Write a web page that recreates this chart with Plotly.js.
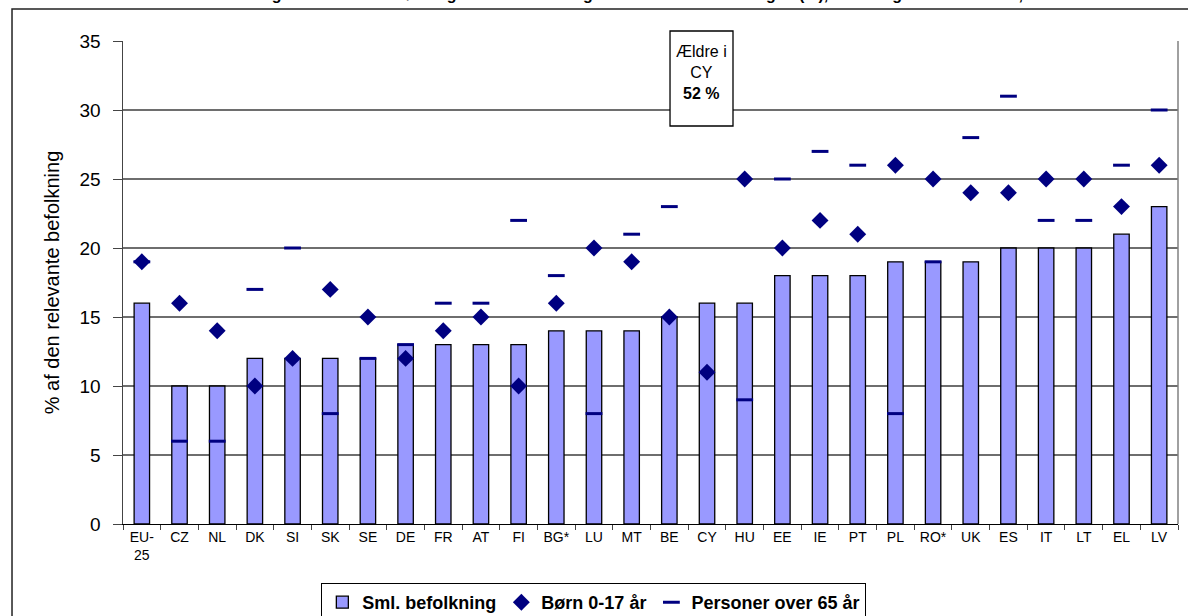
<!DOCTYPE html>
<html><head><meta charset="utf-8">
<script src="https://cdn.plot.ly/plotly-3.0.1.min.js"></script>
<style>html,body{margin:0;padding:0;background:#fff;}#chart{width:1188px;height:616px;}</style>
</head><body><div id="chart"></div>
<script>
const categories = ['EU-25','CZ','NL','DK','SI','SK','SE','DE','FR','AT','FI','BG*','LU','MT','BE','CY','HU','EE','IE','PT','PL','RO*','UK','ES','IT','LT','EL','LV'];
const tickLabels = ['EU-<br>25','CZ','NL','DK','SI','SK','SE','DE','FR','AT','FI','BG*','LU','MT','BE','CY','HU','EE','IE','PT','PL','RO*','UK','ES','IT','LT','EL','LV'];
const totalPop = [16,10,10,12,12,12,12,13,13,13,13,14,14,14,15,16,16,18,18,18,19,19,19,20,20,20,21,23];
const children = [19,16,14,10,12,17,15,12,14,15,10,16,20,19,15,11,25,20,22,21,26,25,24,24,25,25,23,26];
const elderly  = [19,6,6,17,20,8,12,13,16,16,22,18,8,21,23,52,9,25,27,26,8,19,28,31,22,22,26,30];
const yTicks = [0,5,10,15,20,25,30,35];

const FONT = 'Liberation Sans, Arial, sans-serif';
const NAVY = '#000080';

const data = [
  {type:'bar', name:'Sml. befolkning', x:categories, y:totalPop, width:0.41,
   marker:{color:'#9999FF', line:{color:'#000000', width:1.3}}, legendrank:1},
  {type:'scatter', mode:'markers', name:'Personer over 65 år', x:categories, y:elderly,
   marker:{symbol:'line-ew', size:12, color:NAVY, line:{color:NAVY, width:3}}, legendrank:3},
  {type:'scatter', mode:'markers', name:'Børn 0-17 år', x:categories, y:children,
   marker:{symbol:'diamond', size:13, color:NAVY, line:{width:0}}, legendrank:2}
];

const layout = {
  width:1188, height:616,
  margin:{l:123, r:10, t:41, b:92, autoexpand:false},
  paper_bgcolor:'#ffffff', plot_bgcolor:'#ffffff',
  font:{family:FONT, color:'#000000'},
  showlegend:true,
  title:{text:'Fattigdomsrisiko for børn og ældre sammenlignet med hele befolkningen (%), EU-25 og medlemsstater, 2005',
         font:{family:FONT, size:16, weight:'bold', color:'#000'}, x:0.5, xref:'paper',
         y:1, yref:'container', yanchor:'top', pad:{t:-11}},
  xaxis:{type:'category', range:[-0.5, categories.length-0.5], tickmode:'array', tickvals:categories, ticktext:tickLabels,
         tickson:'boundaries', ticks:'outside', ticklen:5, tickcolor:'#444', tickwidth:1,
         showline:true, linecolor:'#000', linewidth:1.2, showgrid:false, zeroline:false,
         tickfont:{family:FONT, size:14, color:'#000'}, tickangle:0, fixedrange:true},
  yaxis:{range:[0,35], tickmode:'array', tickvals:yTicks, ticks:'outside', ticklen:9, tickcolor:'#444',
         showline:true, linecolor:'#444', linewidth:1.5, showgrid:true, gridcolor:'#6e6e6e', gridwidth:1.2,
         zeroline:false, ticklabelstandoff:8,
         tickfont:{family:FONT, size:19, color:'#000'},
         title:{text:'% af den relevante befolkning', font:{family:FONT, size:20, color:'#000'}, standoff:14}},
  legend:{orientation:'h', x:0.188, xanchor:'left', y:0.0536, yref:'container', yanchor:'top',
          bordercolor:'#000', borderwidth:1, bgcolor:'#fff',
          font:{family:FONT, size:18, weight:'bold', color:'#000'}, traceorder:'normal'},
  shapes:[
    {type:'rect', xref:'paper', yref:'paper', x0:-0.1052, x1:1.03, y0:-0.3, y1:1.0663,
     line:{color:'#222', width:1.5}, fillcolor:'rgba(0,0,0,0)', layer:'below'},
    {type:'line', xref:'paper', yref:'paper', x0:1, x1:1, y0:0, y1:1, line:{color:'#808080', width:1.5}},
    {type:'rect', xref:'paper', yref:'paper', x0:0.5185, x1:0.5782, y0:0.8240, y1:1.0207,
     line:{color:'#000', width:1.3}, fillcolor:'#ffffff', layer:'above'}
  ],
  annotations:[
    {xref:'paper', yref:'paper', x:0.5484, y:0.9358, xanchor:'center', yanchor:'middle', showarrow:false,
     text:'Ældre i<br>CY<br><b>52 %</b>', font:{family:FONT, size:16, color:'#000'}, align:'center'}
  ]
};

Plotly.newPlot('chart', data, layout, {displayModeBar:false, staticPlot:true});
</script>
</body></html>
